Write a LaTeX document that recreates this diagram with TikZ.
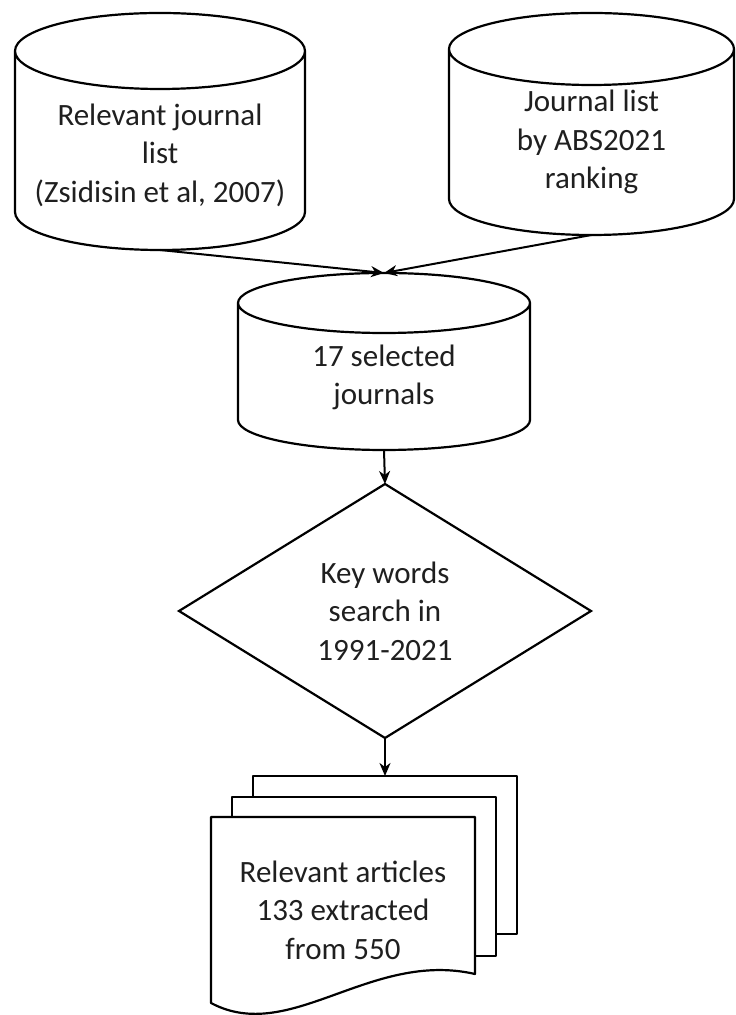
\documentclass[tikz,border=0pt]{standalone}
\usepackage{fontspec}
\setmainfont{Carlito}
\usetikzlibrary{shapes.geometric,arrows.meta,calc,backgrounds}

\tikzset{
  outline/.style={draw=black, line width=2.2pt, line join=round, fill=white},
  flow/.style={draw=black, line width=2pt, -{Stealth[length=13pt,width=11pt,inset=4pt]}},
  label font/.style={font=\fontsize{31}{38.5}\selectfont, text=black!88},
  cylbox/.style={label font, inner sep=0pt, outer sep=0pt},
  decision/.style={diamond, aspect=1.6, minimum width=412pt, minimum height=254pt,
    inner sep=0pt, outer sep=0pt, align=center, label font, draw=black, line width=2.2pt},
  docbox/.style={label font, inner sep=0pt, outer sep=0pt, minimum width=264pt,
    minimum height=186pt, align=center}
}

% text block for a cylinder: width, height, downward shift (twice), lines
\newcommand\cyltext[4]{\parbox[c][#2][c]{#1}{\centering\vspace*{#3}#4}}

% cylinder outline around a named node; #2 = half height of the end caps
\newcommand\cylinderoutline[2]{%
  \draw[outline] let \p1=(#1.north west), \p2=(#1.south east) in
    (\x1,{\y1-#2pt}) -- (\x1,{\y2+#2pt})
      arc[start angle=180, end angle=360, x radius={(\x2-\x1)/2}, y radius=#2pt]
      -- (\x2,{\y1-#2pt})
    ({(\x1+\x2)/2},{\y1-#2pt}) ellipse [x radius={(\x2-\x1)/2}, y radius=#2pt];
}

\begin{document}
\begin{tikzpicture}[x=1pt, y=1pt]
\useasboundingbox (0,0) rectangle (736,1015);

% sources
\node[cylbox] (c1) at (160,883.5)
  {\cyltext{290pt}{237pt}{47pt}{Relevant journal\\list\\(Zsidisin et al, 2007)}};
\node[cylbox] (c2) at (591.5,891)
  {\cyltext{285pt}{222pt}{36pt}{Journal list\\by ABS2021\\ranking}};
% merged selection
\node[cylbox] (c3) at (384,653.5)
  {\cyltext{292pt}{177pt}{32pt}{17 selected\\journals}};
% search step
\node[decision] (d) at (385,404) {Key words\\search in\\1991-2021};
% resulting articles (front page of the stack)
\node[docbox] (doc) at (343,105) {Relevant articles\\133 extracted\\from 550};
\coordinate (stacktop) at ($(doc.north)+(42,41)$);

\begin{scope}[on background layer]
  \cylinderoutline{c1}{38}
  \cylinderoutline{c2}{36}
  \cylinderoutline{c3}{30}
  % stacked pages, back to front
  \draw[outline] ($(doc.north west)+(42,41)$) rectangle ++(264,-158);
  \draw[outline] ($(doc.north west)+(21,20)$) rectangle ++(264,-159);
  \draw[outline] (doc.north west) -- (doc.north east) -- ($(doc.south east)+(0,29)$)
    .. controls ($(doc.south west)+(159,53)$) and ($(doc.south west)+(79,-42)$) .. (doc.south west)
    -- cycle;
\end{scope}

\draw[flow] (c1.south) -- (c3.north);
\draw[flow] (c2.south) -- (c3.north);
\draw[flow] (c3.south) -- (d.north);
\draw[flow] (d.south) -- (stacktop);
\end{tikzpicture}
\end{document}
